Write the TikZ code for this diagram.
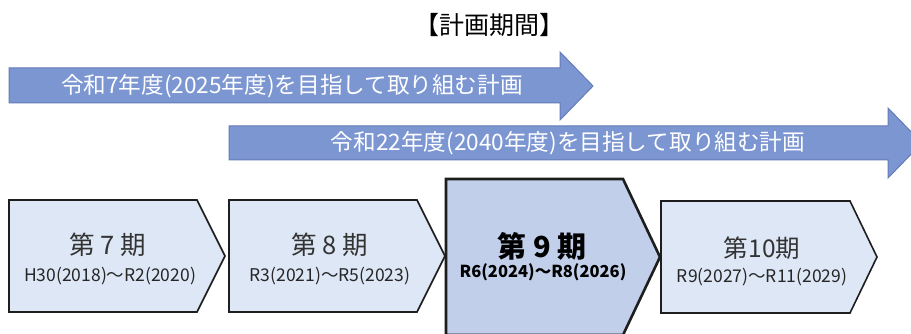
\documentclass[tikz,border=0pt]{standalone}
\usepackage{fontspec}
\setmainfont{Noto Sans CJK JP}
\definecolor{arrowfill}{RGB}{124,150,210}
\definecolor{arrowline}{RGB}{100,124,184}
\definecolor{boxfill}{RGB}{221,231,245}
\definecolor{curfill}{RGB}{193,207,234}
\definecolor{boxline}{RGB}{30,30,30}
\tikzset{
  bigarrow/.style={fill=arrowfill,draw=arrowline,line width=1pt},
  period/.style={fill=boxfill,draw=boxline,line width=1.6pt,line join=miter},
  curperiod/.style={fill=curfill,draw=boxline,line width=2.6pt,line join=miter},
  arrowtext/.style={text=white,font=\fontsize{22.6}{26}\selectfont,inner sep=0pt},
  maintext/.style={text=black!80,font=\fontsize{25.5}{28}\selectfont,inner sep=0pt},
  subtext/.style={text=black!85,font=\fontsize{17.5}{20}\selectfont,inner sep=0pt},
}
\begin{document}
\begin{tikzpicture}[x=1pt,y=-1pt]
\useasboundingbox (0,0) rectangle (911,334);
\clip (0,0) rectangle (911,334);
\fill[white] (0,0) rectangle (911,334);
% title
\node[font=\fontsize{25}{28}\selectfont,inner sep=0pt] (title) at (489,25) {【計画期間】};
% plan arrows
\draw[bigarrow] (9,68) -- (560,68) -- (560,52) -- (593,86) -- (560,120) -- (560,103) -- (9,103) -- cycle;
\node[arrowtext] (a1) at (292,86) {令和7年度(2025年度)を目指して取り組む計画};
\draw[bigarrow] (229,126) -- (888,126) -- (888,108) -- (922,143) -- (888,178) -- (888,160) -- (229,160) -- cycle;
\node[arrowtext] (a2) at (568,143) {令和22年度(2040年度)を目指して取り組む計画};
% periods
\draw[period] (9,200) -- (197,200) -- (225,256) -- (197,312) -- (9,312) -- cycle;
\node[maintext] (p7) at (108,245) {第 7 期};
\node[subtext] (p7s) at (110,276) {H30(2018)～R2(2020)};
\draw[period] (229,200) -- (417,200) -- (445,256) -- (417,312) -- (229,312) -- cycle;
\node[maintext] (p8) at (330,245) {第 8 期};
\node[subtext] (p8s) at (330,276) {R3(2021)～R5(2023)};
\draw[curperiod] (446,179) -- (623,179) -- (660,257) -- (623,335) -- (446,335) -- cycle;
\node[maintext,text=black,font=\fontsize{29}{32}\selectfont\bfseries] (p9) at (542,246) {第 9 期};
\node[subtext,text=black,font=\fontsize{16.5}{20}\selectfont\bfseries] (p9s) at (543,272) {R6(2024)～R8(2026)};
\draw[period] (661,201) -- (850,201) -- (877,257) -- (850,313) -- (661,313) -- cycle;
\node[maintext,font=\fontsize{24.5}{28}\selectfont] (p10) at (762,248) {第10期};
\node[subtext] (p10s) at (762,277) {R9(2027)～R11(2029)};
\end{tikzpicture}
\end{document}
